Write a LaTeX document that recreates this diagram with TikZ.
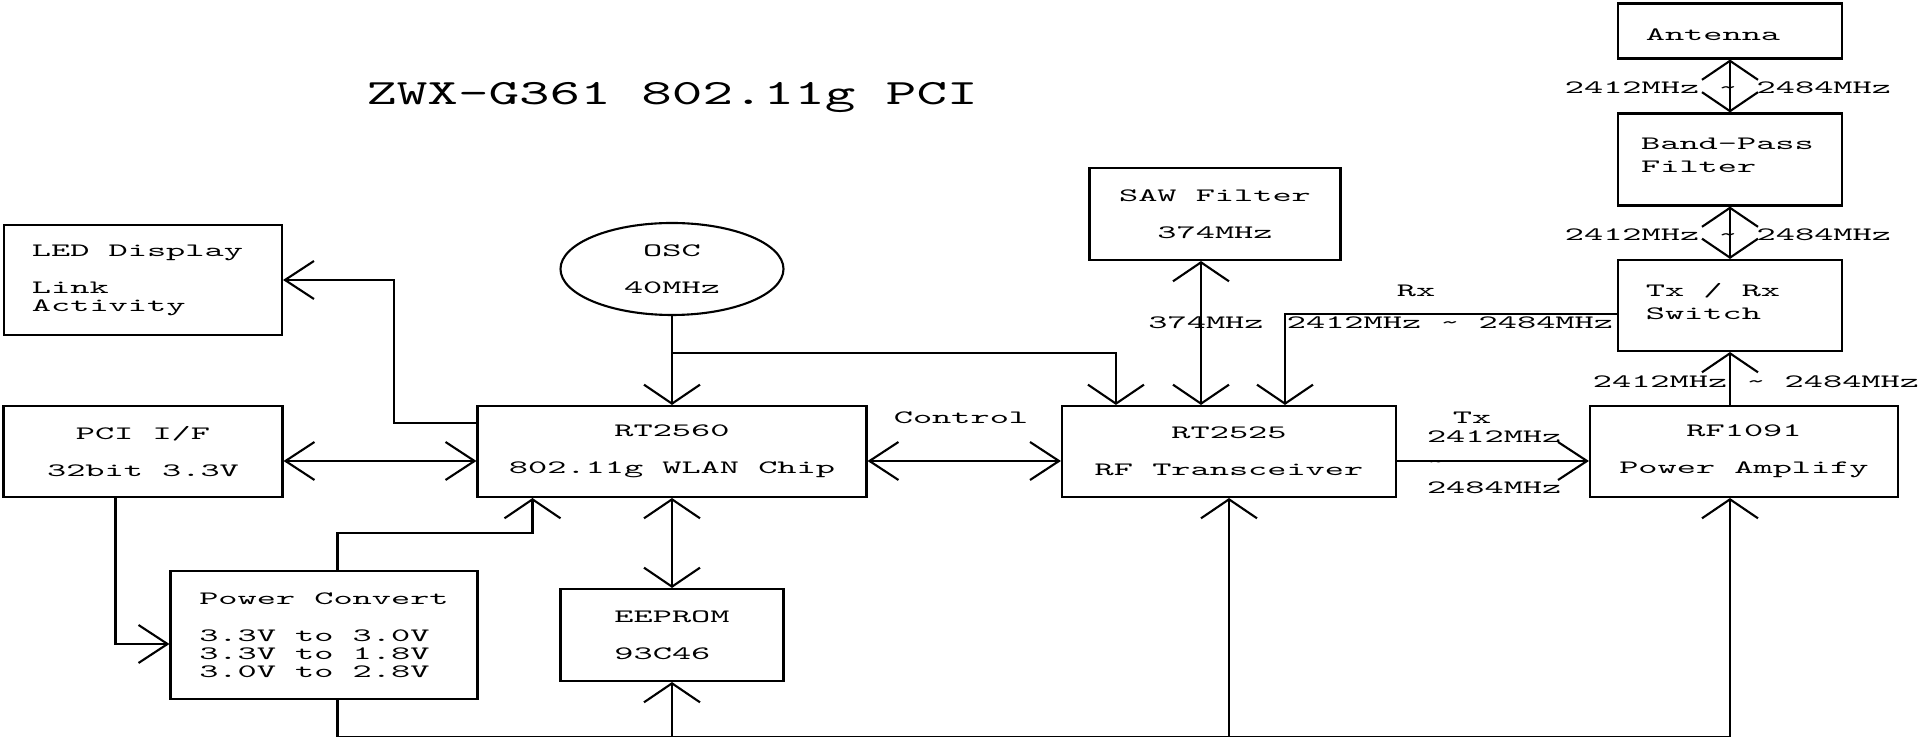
\documentclass[tikz,border=0pt]{standalone}
\usepackage{fontspec}
\usepackage{tikz}
\usetikzlibrary{shapes.geometric}
\usetikzlibrary{arrows.meta}
\newfontfamily\blockfont{lmmono10-regular.otf}[FakeStretch=1.94]
\newfontfamily\headfont{lmmono10-regular.otf}[FakeStretch=1.64]
\tikzset{
    block/.style={ % Boxes of the block diagram
    draw, inner sep=0pt, align=center,
    minimum height=0.91cm},
    leftblock/.style={block, align=left}, % Text set flush left
    freq/.style={inner sep=0pt, anchor=base}, % Labels on the links
    hto/.style={-{Straight Barb[length=2.9mm,width=3.8mm]}}, % Open arrow heads, horizontal
    hboth/.style={{Straight Barb[length=2.9mm,width=3.8mm]}-{Straight Barb[length=2.9mm,width=3.8mm]}},
    vto/.style={-{Straight Barb[length=1.9mm,width=5.6mm]}}, % Open arrow heads, vertical
    vboth/.style={{Straight Barb[length=1.9mm,width=5.6mm]}-{Straight Barb[length=1.9mm,width=5.6mm]}}}

\begin{document}
\begin{tikzpicture}[line width=0.6pt, font=\blockfont\fontsize{5.36pt}{5.12pt}\selectfont]
        \useasboundingbox (0,0) rectangle (19.21,-7.37);

        % Title
        \node[font=\headfont\fontsize{10.1pt}{12pt}\selectfont, anchor=base] (title) at (6.72,-1.05) {ZWX-G361 802.11g PCI};

        % Left column
        \node[leftblock, minimum width=2.78cm, minimum height=1.10cm] (led) at (1.43,-2.80) {LED Display\hspace*{0.11cm}\\[0.19cm]Link\\Activity};
        \node[block, minimum width=2.79cm] (pci) at (1.43,-4.515) {PCI I/F\\[0.19cm]32bit 3.3V};
        \node[block, align=left, minimum width=3.07cm, minimum height=1.28cm] (pwr) at (3.24,-6.35) {Power Convert\\[0.19cm]3.3V to 3.0V\\3.3V to 1.8V\\3.0V to 2.8V};

        % Chip, clock and memory
        \node[draw, ellipse, inner sep=0pt, align=center, minimum width=2.23cm, minimum height=0.92cm] (osc) at (6.72,-2.69) {OSC\\[0.19cm]40MHz};
        \node[block, minimum width=3.89cm] (rt2560) at (6.72,-4.515) {RT2560\\[0.19cm]802.11g WLAN Chip};
        \node[block, align=left, minimum width=2.23cm, minimum height=0.92cm] (eeprom) at (6.72,-6.35) {EEPROM\\[0.19cm]93C46};

        % RF part
        \node[block, minimum width=2.51cm, minimum height=0.92cm] (saw) at (12.15,-2.14) {SAW Filter\\[0.19cm]374MHz};
        \node[block, minimum width=3.34cm] (rt2525) at (12.29,-4.515) {RT2525\\[0.19cm]RF Transceiver};
        \node[block, minimum width=3.08cm] (pa) at (17.44,-4.515) {RF1091\\[0.19cm]Power Amplify};

        % Antenna chain
        \node[leftblock, minimum width=2.24cm, minimum height=0.55cm] (ant) at (17.30,-0.31) {\rule{0pt}{0.195cm}Antenna\hspace*{0.34cm}};
        \node[leftblock, minimum width=2.24cm, minimum height=0.92cm] (bpf) at (17.30,-1.595) {Band-Pass\hspace*{0.05cm}\\[0.05cm]Filter\rule[-0.08cm]{0pt}{0.08cm}};
        \node[leftblock, minimum width=2.24cm] (sw) at (17.30,-3.055) {Tx / Rx\hspace*{0.34cm}\\[0.05cm]Switch\rule[-0.08cm]{0pt}{0.08cm}};

        % Link labels
        \node[freq] (ctl) at (9.61,-4.24) {Control};
        \node[freq] (txlab) at (14.72,-4.24) {Tx};
        \node[inner sep=0pt, align=left, anchor=north west] (txfreq) at (14.26,-4.295) {2412MHz\\[0.075cm]\textasciitilde\\[0.075cm]2484MHz};
        \node[freq] (rxlab) at (14.16,-2.97) {Rx};
        \node[freq] (rxfreq) at (14.50,-3.29) {2412MHz \textasciitilde{} 2484MHz};
        \node[freq] (sawfreq) at (12.06,-3.29) {374MHz};
        \node[freq] (antfreq) at (17.28,-0.94) {2412MHz \textasciitilde{} 2484MHz};
        \node[freq] (bpffreq) at (17.28,-2.41) {2412MHz \textasciitilde{} 2484MHz};
        \node[freq] (pafreq) at (17.56,-3.88) {2412MHz \textasciitilde{} 2484MHz};

        % Clock lines
        \draw[vto] (osc.south) -- (rt2560.north);
        \draw[vto] ([yshift=-0.37cm]osc.south) -| ([xshift=0.55cm]rt2525.north west);

        % Data links between the blocks
        \draw[hboth] ([yshift=-0.095cm]pci.east) -- ([yshift=-0.095cm]rt2560.west);
        \draw[hboth] ([yshift=-0.095cm]rt2560.east) -- ([yshift=-0.095cm]rt2525.west);
        \draw[hto] ([yshift=-0.095cm]rt2525.east) -- ([yshift=-0.095cm]pa.west);
        \draw[hto] ([yshift=0.285cm]rt2560.west) -| ([xshift=1.11cm]led.east) -- (led.east);
        \draw[vboth] (rt2560.south) -- (eeprom.north);
        \draw[vboth] ([xshift=-0.28cm]rt2525.north) -- ([xshift=-0.28cm]rt2525.north |- saw.south);
        \draw[vto] ([yshift=-0.085cm]sw.west) -| ([xshift=0.56cm]rt2525.north);
        \draw[vto] (sw.south |- pa.north) -- (sw.south);
        \draw[vboth] (ant.south) -- (bpf.north);
        \draw[vboth] (bpf.south) -- (sw.north);

        % Power supply
        \draw[hto] ([xshift=-0.275cm]pci.south) |- ([yshift=-0.09cm]pwr.west);
        \draw[vto] ([xshift=0.135cm]pwr.north) -- ++(0,0.37) -| ([xshift=-1.395cm]rt2560.south);
        \coordinate (bus) at ([xshift=0.135cm, yshift=-0.37cm]pwr.south);
        \draw[vto] ([xshift=0.135cm]pwr.south) -- (bus) -| (sw.south |- pa.south);
        \draw[vto] (eeprom.south |- bus) -- (eeprom.south);
        \draw[vto] (rt2525.south |- bus) -- (rt2525.south);

    \end{tikzpicture}
\end{document}
